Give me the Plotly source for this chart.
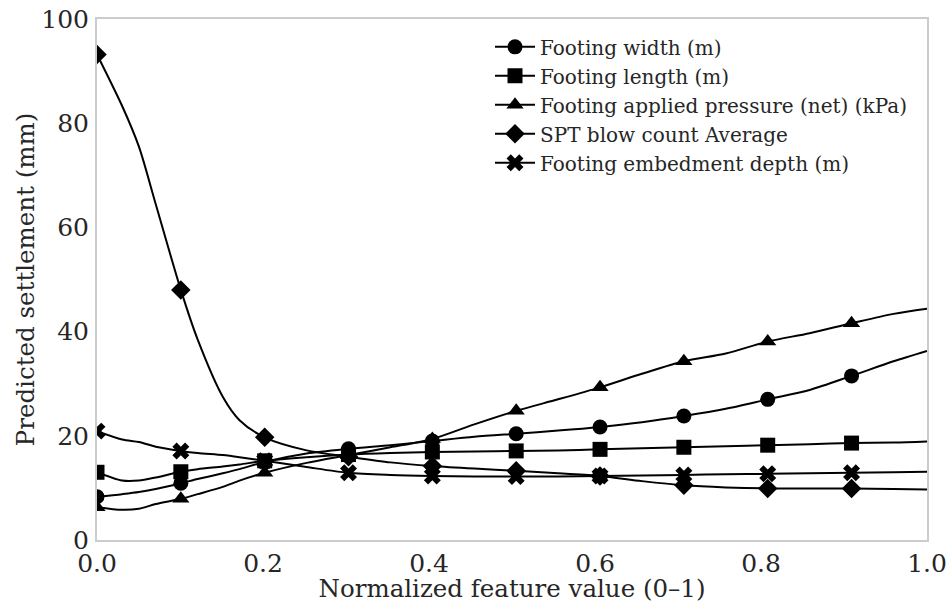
import plotly.graph_objects as go

# sample indices on a 100-point grid (x = i/99); markers every 10th point
sample_idx = [0, 3, 5, 7, 10, 12, 15, 17, 20, 25, 30, 35, 40, 45, 50, 55,
              60, 65, 70, 75, 80, 85, 90, 95, 99]
x_vals = [i / 99 for i in sample_idx]

footing_width = [8.3, 8.8, 9.2, 9.8, 10.9, 11.7, 12.8, 13.6, 15.0, 16.6, 17.5, 18.2,
                 19.0, 19.8, 20.4, 21.0, 21.7, 22.6, 23.8, 25.2, 27.0, 28.8, 31.5, 34.3, 36.3]
footing_length = [13.0, 11.4, 11.4, 12.0, 13.1, 13.6, 14.1, 14.5, 15.2, 15.9, 16.4, 16.7,
                  16.9, 17.0, 17.1, 17.2, 17.4, 17.6, 17.8, 18.0, 18.2, 18.4, 18.6, 18.7, 18.9]
applied_pressure = [6.3, 5.8, 6.0, 6.9, 7.9, 8.8, 10.2, 11.4, 12.9, 14.8, 16.3, 17.8,
                    19.4, 22.2, 24.8, 27.0, 29.3, 31.9, 34.3, 35.8, 38.1, 39.7, 41.6, 43.4, 44.4]
spt_blow_count = [93.2, 83.3, 75.5, 64.5, 48.0, 38.5, 27.5, 23.0, 19.7, 17.2, 16.0, 14.9,
                  14.2, 13.7, 13.3, 12.8, 12.3, 11.3, 10.5, 10.1, 9.9, 9.9, 9.9, 9.8, 9.7]
embedment_depth = [20.9, 19.3, 18.8, 17.9, 17.1, 16.7, 16.3, 15.9, 15.2, 14.0, 12.9, 12.5,
                   12.3, 12.2, 12.2, 12.2, 12.3, 12.4, 12.5, 12.6, 12.7, 12.8, 12.9, 13.0, 13.1]

series_names = ["Footing width (m)", "Footing length (m)",
                "Footing applied pressure (net) (kPa)", "SPT blow count Average",
                "Footing embedment depth (m)"]
series_values = [footing_width, footing_length, applied_pressure, spt_blow_count, embedment_depth]
symbols = ["circle", "square", "triangle-up", "diamond", "x"]

TEXT = "#262626"
FONT = "DejaVu Serif"

marker_colors = ["black" if i % 10 == 0 and i < 99 else "rgba(0,0,0,0)" for i in sample_idx]

fig = go.Figure()
for k, (name, vals) in enumerate(zip(series_names, series_values)):
    fig.add_trace(go.Scatter(
        x=x_vals, y=vals, name=name, mode="lines+markers",
        legendgroup=f"g{k}",
        line=dict(color="black", width=2, shape="spline", smoothing=0.8),
        marker=dict(symbol=symbols[k], size=15, color=marker_colors,
                    line=dict(width=0)),
    ))

fig.update_layout(
    width=946, height=603,
    margin=dict(l=97, r=19, t=19, b=63),
    paper_bgcolor="white", plot_bgcolor="white",
    font=dict(family=FONT, color=TEXT, size=25),
    showlegend=True,
    legend=dict(x=0.4735, y=0.984, xanchor="left", yanchor="top",
                font=dict(size=20, color=TEXT, family=FONT),
                bgcolor="rgba(255,255,255,0)", borderwidth=0,
                tracegroupgap=0, itemwidth=40),
    xaxis=dict(range=[0, 1], tickvals=[0, 0.2, 0.4, 0.6, 0.8, 1.0], tickformat=".1f",
               showgrid=False, zeroline=False, showline=True, linecolor="#cccccc",
               linewidth=2, mirror=True, ticks="", automargin=False,
               ticklabeloverflow="allow",
               title=dict(text="Normalized feature value (0–1)", font=dict(size=24.5)),
               tickfont=dict(size=25)),
    yaxis=dict(range=[0, 100], tickvals=[0, 20, 40, 60, 80, 100],
               showgrid=False, zeroline=False, showline=True, linecolor="#cccccc",
               linewidth=2, mirror=True, ticks="", automargin="left",
               ticklabelstandoff=1, ticklabeloverflow="allow",
               title=dict(text="Predicted settlement (mm)", font=dict(size=24.5),
                          standoff=0),
               tickfont=dict(size=25)),
)

fig.write_html("out.html", config={"displayModeBar": False},
               post_script="document.body.style.margin='0';")
